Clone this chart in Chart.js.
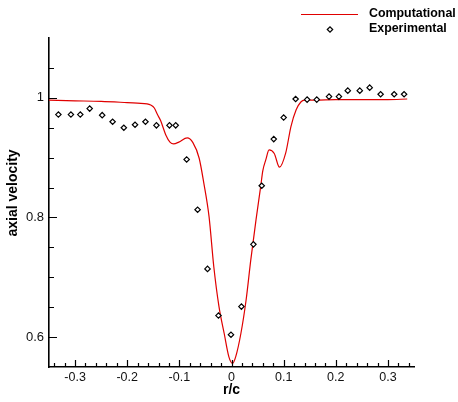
<!DOCTYPE html>
<html>
<head>
<meta charset="utf-8">
<script src="https://cdn.jsdelivr.net/npm/chart.js@4"></script>
<style>
  html, body { margin: 0; padding: 0; background: #fff; }
  #wrap { width: 458px; height: 402px; }
</style>
</head>
<body>
<div id="wrap"><canvas id="chart" width="458" height="402"></canvas></div>
<script>
// computed axial velocity profile across the vortex core
const compR = [-0.35, -0.30, -0.25, -0.20, -0.162, -0.155, -0.148, -0.142, -0.136, -0.126,
  -0.118, -0.111, -0.101, -0.085, -0.074, -0.062, -0.053, -0.043, -0.034, -0.024,
  -0.014, -0.005, 0.002, 0.008, 0.018, 0.028, 0.037, 0.047, 0.056, 0.060,
  0.066, 0.072, 0.082, 0.092, 0.104, 0.114, 0.124, 0.133, 0.140, 0.16,
  0.20, 0.25, 0.30, 0.337];
const compV = [0.996, 0.995, 0.994, 0.992, 0.990, 0.988, 0.983, 0.972, 0.962, 0.938,
  0.926, 0.923, 0.926, 0.933, 0.925, 0.899, 0.857, 0.801, 0.718, 0.651,
  0.606, 0.567, 0.556, 0.567, 0.606, 0.662, 0.729, 0.796, 0.852, 0.878,
  0.897, 0.913, 0.907, 0.884, 0.908, 0.952, 0.980, 0.993, 0.996, 0.996,
  0.997, 0.997, 0.997, 0.998];

// measured points
const expR = [-0.332, -0.308, -0.290, -0.272, -0.248, -0.228, -0.2065, -0.185, -0.165, -0.144,
  -0.119, -0.107, -0.086, -0.065, -0.046, -0.025, -0.001, 0.019, 0.042, 0.058,
  0.081, 0.100, 0.123, 0.145, 0.1635, 0.187, 0.206, 0.223, 0.246, 0.265,
  0.286, 0.312, 0.331];
const expV = [0.972, 0.972, 0.972, 0.982, 0.971, 0.960, 0.950, 0.955, 0.960, 0.954,
  0.954, 0.954, 0.897, 0.813, 0.714, 0.636, 0.604, 0.651, 0.755, 0.853,
  0.931, 0.967, 0.998, 0.997, 0.997, 1.002, 1.002, 1.012, 1.012, 1.017,
  1.006, 1.006, 1.006];

const xTicks = [-0.3, -0.2, -0.1, 0, 0.1, 0.2, 0.3];
const yTicks = [0.6, 0.8, 1];

const FONT = '"Liberation Sans", Arial, Helvetica, sans-serif';

const pts = (xs, ys) => xs.map((x, i) => ({ x: x, y: ys[i] }));

// inward tick marks, legend and the vertical axis title
const decor = {
  id: 'decor',
  afterDraw(chart) {
    const ctx = chart.ctx;
    const xs = chart.scales.x, ys = chart.scales.y;
    const a = chart.chartArea;
    ctx.save();
    ctx.strokeStyle = '#000';
    ctx.lineWidth = 1.2;
    ctx.beginPath();
    for (let k = -17; k <= 17; k++) {
      const v = k * 0.02;
      const major = k % 5 === 0;
      const px = Math.round(xs.getPixelForValue(v)) + 0.5;
      ctx.moveTo(px, a.bottom);
      ctx.lineTo(px, a.bottom - (major ? 7 : 4));
    }
    for (let k = 12; k <= 21; k++) {
      const v = k * 0.05;
      const major = k % 4 === 0;
      const py = Math.round(ys.getPixelForValue(v)) + 0.5;
      ctx.moveTo(a.left, py);
      ctx.lineTo(a.left + (major ? 8 : 5), py);
    }
    ctx.stroke();

    // legend
    ctx.strokeStyle = '#e00000';
    ctx.lineWidth = 1.2;
    ctx.beginPath();
    ctx.moveTo(301, 14.5);
    ctx.lineTo(358, 14.5);
    ctx.stroke();
    ctx.fillStyle = '#fff';
    ctx.strokeStyle = '#000';
    ctx.beginPath();
    ctx.moveTo(327.3, 29.5);
    ctx.lineTo(330, 26.8);
    ctx.lineTo(332.7, 29.5);
    ctx.lineTo(330, 32.2);
    ctx.closePath();
    ctx.fill();
    ctx.stroke();
    ctx.fillStyle = '#000';
    ctx.font = 'bold 12.4px ' + FONT;
    ctx.textBaseline = 'middle';
    ctx.textAlign = 'left';
    ctx.fillText('Computational', 369, 14);
    ctx.fillText('Experimental', 369, 29);

    // y axis title
    ctx.translate(13, 193);
    ctx.rotate(-Math.PI / 2);
    ctx.textAlign = 'center';
    ctx.font = 'bold 14px ' + FONT;
    ctx.fillText('axial velocity', 0, 0);
    ctx.restore();
  }
};

new Chart(document.getElementById('chart'), {
  type: 'scatter',
  data: {
    datasets: [
      {
        label: 'Computational',
        data: pts(compR, compV),
        showLine: true,
        borderColor: '#e00000',
        borderWidth: 1.2,
        pointRadius: 0,
        cubicInterpolationMode: 'monotone',
        order: 1
      },
      {
        label: 'Experimental',
        data: pts(expR, expV),
        pointStyle: 'rectRot',
        pointRadius: 2.7,
        pointBorderWidth: 1.2,
        pointBorderColor: '#000',
        pointBackgroundColor: '#fff',
        order: 0
      }
    ]
  },
  plugins: [decor],
  options: {
    responsive: false,
    animation: false,
    layout: { padding: { top: 38, right: 44, left: 0, bottom: 0 } },
    plugins: { legend: { display: false }, tooltip: { enabled: false } },
    scales: {
      x: {
        type: 'linear',
        min: -0.35,
        max: 0.35,
        afterFit: s => { s.height = 35; },
        afterBuildTicks: s => { s.ticks = xTicks.map(v => ({ value: v })); },
        grid: { display: false, drawTicks: false },
        border: { display: true, color: '#000', width: 1.6 },
        ticks: {
          padding: 3,
          color: '#111',
          font: { family: FONT, size: 12.5 },
          maxRotation: 0,
          callback: v => String(v)
        },
        title: {
          display: true,
          text: 'r/c',
          color: '#000',
          font: { family: FONT, size: 14, weight: 'bold' },
          padding: { top: 0, bottom: 3 }
        }
      },
      y: {
        type: 'linear',
        min: 0.55,
        max: 1.1,
        afterFit: s => { s.width = 49; },
        afterBuildTicks: s => { s.ticks = yTicks.map(v => ({ value: v })); },
        grid: { display: false, drawTicks: false },
        border: { display: true, color: '#000', width: 1.6 },
        ticks: {
          padding: 5,
          color: '#111',
          font: { family: FONT, size: 13 },
          callback: v => String(v)
        }
      }
    }
  }
});
</script>
</body>
</html>
